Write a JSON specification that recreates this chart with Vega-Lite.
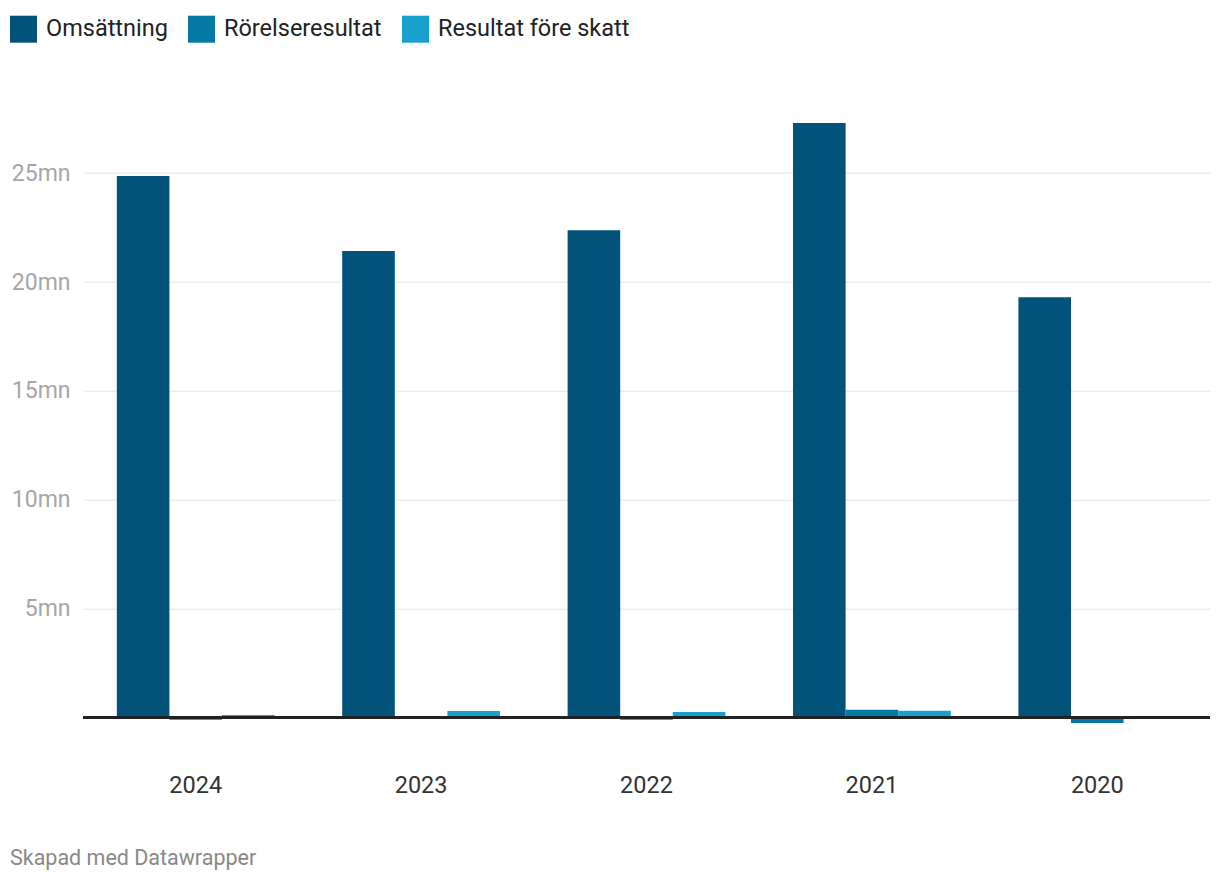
{
  "$schema": "https://vega.github.io/schema/vega-lite/v6.json",
  "autosize": {"type": "none"},
  "width": 1127,
  "height": 621,
  "padding": {"left": 83, "top": 107.7, "right": 10, "bottom": 153},
  "background": "white",
  "config": {
    "font": "Roboto",
    "view": {"stroke": null}
  },
  "title": {
    "text": "Skapad med Datawrapper",
    "orient": "bottom",
    "anchor": "start",
    "frame": "group",
    "dx": -73,
    "offset": 51,
    "fontSize": 21.5,
    "fontWeight": "normal",
    "color": "#888888",
    "font": "Roboto"
  },
  "data": {
    "values": [
      {"year": "2024", "serie": "Omsättning", "value": 24.86},
      {"year": "2024", "serie": "Rörelseresultat", "value": -0.09},
      {"year": "2024", "serie": "Resultat före skatt", "value": 0.13},
      {"year": "2023", "serie": "Omsättning", "value": 21.42},
      {"year": "2023", "serie": "Rörelseresultat", "value": 0.0},
      {"year": "2023", "serie": "Resultat före skatt", "value": 0.31},
      {"year": "2022", "serie": "Omsättning", "value": 22.38},
      {"year": "2022", "serie": "Rörelseresultat", "value": -0.09},
      {"year": "2022", "serie": "Resultat före skatt", "value": 0.27},
      {"year": "2021", "serie": "Omsättning", "value": 27.3},
      {"year": "2021", "serie": "Rörelseresultat", "value": 0.37},
      {"year": "2021", "serie": "Resultat före skatt", "value": 0.32},
      {"year": "2020", "serie": "Omsättning", "value": 19.3},
      {"year": "2020", "serie": "Rörelseresultat", "value": -0.24},
      {"year": "2020", "serie": "Resultat före skatt", "value": 0.0}
    ]
  },
  "layer": [
    {
      "mark": {"type": "bar"},
      "encoding": {
        "x": {
          "field": "year",
          "type": "nominal",
          "sort": ["2024", "2023", "2022", "2021", "2020"],
          "scale": {"paddingInner": 0.3, "paddingOuter": 0.15},
          "axis": {
            "title": null,
            "labelAngle": 0,
            "domain": false,
            "ticks": false,
            "labelPadding": 45,
            "labelFontSize": 23.5,
            "labelColor": "#333333",
            "labelFont": "Roboto"
          }
        },
        "xOffset": {
          "field": "serie",
          "type": "nominal",
          "sort": ["Omsättning", "Rörelseresultat", "Resultat före skatt"],
          "scale": {"paddingInner": 0, "paddingOuter": 0}
        },
        "y": {
          "field": "value",
          "type": "quantitative",
          "scale": {"domain": [-0.5, 28], "nice": false, "zero": false},
          "axis": {
            "title": null,
            "values": [5, 10, 15, 20, 25],
            "labelExpr": "datum.value + 'mn'",
            "domain": false,
            "ticks": false,
            "labelPadding": 13,
            "labelFontSize": 23,
            "labelColor": "#a6a6a6",
            "labelFont": "Roboto",
            "gridColor": "#e3e3e3",
            "gridWidth": 1
          }
        },
        "color": {
          "field": "serie",
          "type": "nominal",
          "sort": ["Omsättning", "Rörelseresultat", "Resultat före skatt"],
          "scale": {
            "domain": ["Omsättning", "Rörelseresultat", "Resultat före skatt"],
            "range": ["#03527a", "#0479a3", "#18a1cd"]
          },
          "legend": {
            "title": null,
            "orient": "none",
            "direction": "horizontal",
            "legendX": -73,
            "legendY": -92,
            "symbolType": "square",
            "symbolSize": 729,
            "symbolStrokeWidth": 0,
            "symbolOpacity": 1,
            "labelFontSize": 23.5,
            "labelColor": "#222222",
            "labelFont": "Roboto",
            "labelLimit": 400,
            "labelOffset": 9,
            "columnPadding": 20
          }
        }
      }
    },
    {
      "mark": {"type": "rule", "color": "#222222", "strokeWidth": 2},
      "encoding": {"y": {"datum": 0}}
    }
  ]
}
